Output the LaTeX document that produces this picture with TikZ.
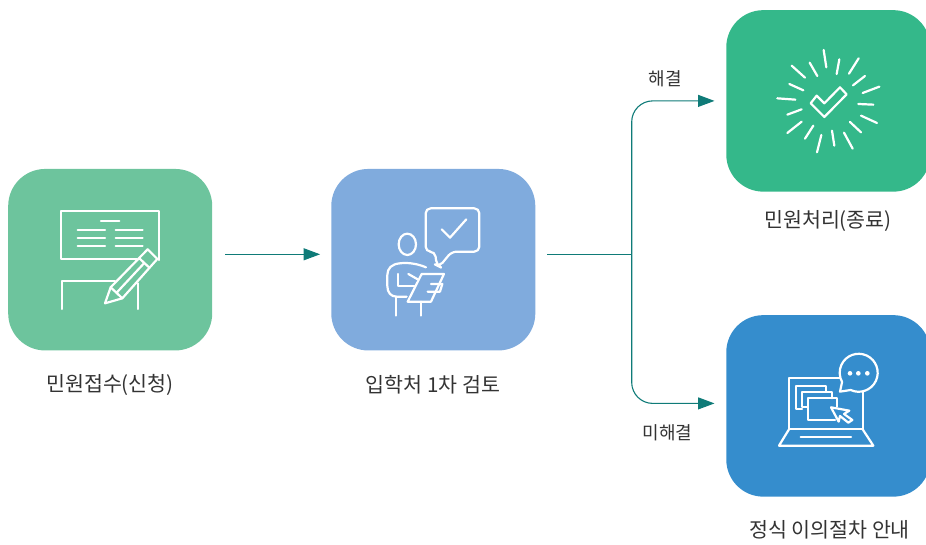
\documentclass[tikz,border=0pt]{standalone}
\usepackage{fontspec}
\setmainfont{Noto Sans CJK KR}
\usetikzlibrary{arrows, arrows.meta}
\definecolor{recvgreen}{HTML}{6DC49D}
\definecolor{reviewblue}{HTML}{80ABDD}
\definecolor{donegreen}{HTML}{34B88A}
\definecolor{appealblue}{HTML}{358DCD}
\definecolor{flowteal}{HTML}{0F7B78}
\definecolor{labelgray}{HTML}{333333}
\tikzset{
    stagebox/.style={draw=none, inner sep=0pt, minimum width=204pt, minimum height=181.5pt, rounded corners=37pt},
    stagelabel/.style={inner sep=0pt, text=labelgray, font=\fontsize{20.6}{24}\selectfont},
    flowlabel/.style={inner sep=0pt, text=labelgray, font=\fontsize{18}{22}\selectfont},
    flowline/.style={flowteal, line width=1.1pt, -{Triangle[length=16.5pt, width=12pt]}},
    iconat/.style 2 args={xshift=#1pt, yshift=-#2pt, x=0.3333pt, y=-0.3333pt, white, line width=2.2pt, line join=round, line cap=round}
}
\begin{document}
\begin{tikzpicture}[x=1pt, y=-1pt]
    \useasboundingbox (0,0) rectangle (926,545);
    \clip (0,0) rectangle (926,545);

    \node[stagebox, fill=recvgreen] (recv) at (110.2,259.7) {};
    \node[stagebox, fill=reviewblue] (review) at (433.3,259.7) {};
    \node[stagebox, fill=donegreen] (done) at (828.3,100.9) {};
    \node[stagebox, fill=appealblue] (appeal) at (828.3,405.9) {};

    \node[stagelabel] (recvlabel) at (110,385) {민원접수(신청)};
    \node[stagelabel] (reviewlabel) at (433,385) {입학처 1차 검토};
    \node[stagelabel] (donelabel) at (828,221) {민원처리(종료)};
    \node[stagelabel] (appeallabel) at (829.5,530) {정식 이의절차 안내};
    \node[flowlabel] (solved) at (665.5,78.5) {해결};
    \node[flowlabel] (unsolved) at (667.5,432.5) {미해결};

    \coordinate (split) at (631.7,254.3);

    \draw[flowline, shorten <=13pt, shorten >=11pt] (recv.east |- split) -- (review.west |- split);
    \draw[flowteal, line width=1.1pt, shorten <=11.5pt] (review.east |- split) -- (split);
    \draw[flowline, rounded corners=21pt, shorten >=11.6pt] (split) |- (done.west);
    \draw[flowline, rounded corners=21pt, shorten >=11.6pt] (split) |- ([yshift=2.5pt]appeal.west);

    \begin{scope}[iconat={0}{160}]
        \draw (410,298) -- (183,298) -- (183,153) -- (477,153) -- (477,300);
        \draw (185,447) -- (185,364) -- (345,364);
        \draw (413,370) -- (413,447);
        \draw (303,184) -- (358,184);
        \foreach \liney in {209,234,259} {
            \draw (233,\liney) -- (315,\liney);
            \draw (347,\liney) -- (428,\liney);
        }
        \draw (332,382) -- (443,268) -- (472,297) -- (367,415) -- (315,430) -- cycle;
        \draw (332,382) -- (367,415);
        \draw (350,398) -- (432,310);
        \draw (418,295) -- (447,322);
    \end{scope}

    \begin{scope}[iconat={325}{160}]
        \draw[rounded corners=5pt] (302,145) -- (463,145) -- (463,275) -- (380,275) -- (343,320) -- (335,316) -- (330,275) -- (302,275) -- cycle;
        \draw (350,208) -- (375,233) -- (424,178);
        \draw (247,253) ellipse[x radius=26, y radius=32];
        \draw (303,322) .. controls (270,308) and (240,308) .. (225,310) .. controls (200,312) and (187,325) .. (187,345) -- (187,378) .. controls (187,398) and (198,410) .. (215,410) -- (245,410);
        \draw (214,410) -- (214,467);
        \draw (288,425) -- (288,467);
        \draw (220,342) -- (220,378) -- (268,378);
        \draw (250,342) -- (278,358);
        \draw (290,342) -- (357,342) -- (318,425) -- (248,425) -- cycle;
        \draw (318,372) -- (352,372) -- (345,395) -- (308,395);
    \end{scope}

    \begin{scope}[iconat={720}{5}]
        \draw (272,295) -- (290,272) -- (313,295) -- (360,247) -- (380,268) -- (313,336) -- cycle;
        \foreach \xa/\ya/\xb/\yb in {311/135/319/187, 358/163/350/207, 416/160/387/206, 435/213/399/241, 478/245/428/264, 460/299/415/297, 471/354/423/332, 423/382/390/351, 398/431/372/383, 343/422/336/377, 291/442/304/390, 255/401/280/362, 202/384/245/350, 202/329/245/313, 172/280/226/284, 208/237/250/256, 215/182/255/218, 269/173/292/213} {
            \draw (\xa,\ya) -- (\xb,\yb);
        }
    \end{scope}

    \begin{scope}[iconat={720}{310}]
        \draw (360,204) -- (207,204) -- (207,358) -- (428,358) -- (428,245);
        \draw (207,358) -- (177,407) -- (460,407) -- (428,358);
        \draw (242,382) -- (393,382);
        \draw (246,296) -- (229,296) -- (229,227) -- (318,227) -- (318,245);
        \draw (263,290) -- (246,290) -- (246,245) -- (335,245) -- (335,265);
        \draw (345,330) -- (263,330) -- (263,265) -- (350,265) -- (350,290);
        \draw (333,292) -- (388,302) -- (372,312) -- (397,330) -- (385,338) -- (360,318) -- (356,335) -- cycle;
        \draw (392,240) arc[start angle=115, end angle=-209, radius=57] -- (360,245) -- cycle;
        \foreach \dotx in {390,415,442} {
            \fill (\dotx,190) circle[radius=7];
        }
    \end{scope}
\end{tikzpicture}
\end{document}
